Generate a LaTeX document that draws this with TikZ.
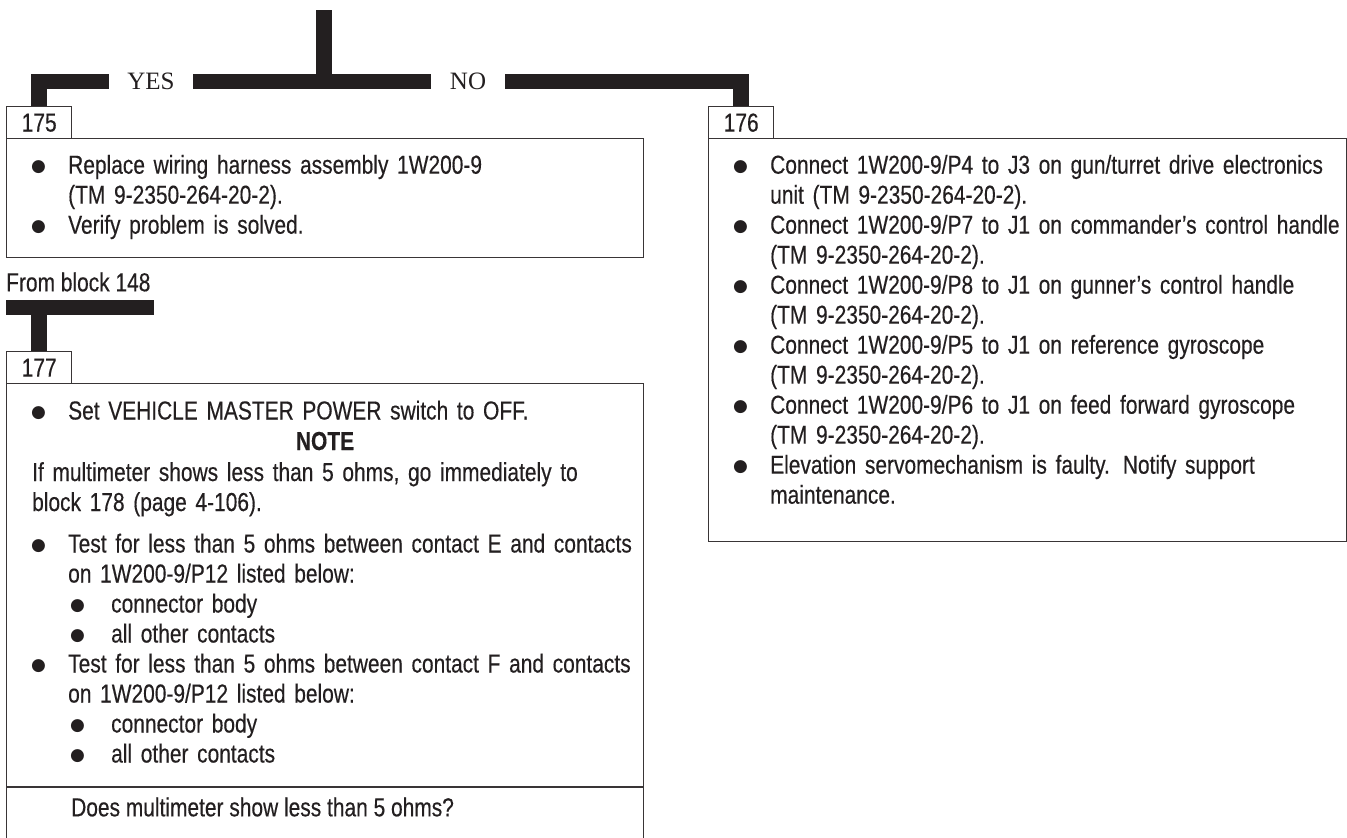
\documentclass[tikz,border=0pt]{standalone}
\usepackage{fontspec}
\setmainfont{Liberation Sans}[FakeStretch=0.805, FakeBold=0.35]
\newfontfamily\ynfont{Liberation Serif}
\newfontfamily\dotfont{DejaVu Sans}
\definecolor{ink}{HTML}{231F20}

% bullet glyph and list paragraphs with hanging indent
\newcommand{\bdot}{\raisebox{2.5pt}{\dotfont\fontsize{17pt}{17pt}\selectfont ●}}
\newcommand{\bitem}[1]{\hangindent=37pt\hangafter=1\noindent\rule{0pt}{20pt}\makebox[37pt][l]{\bdot}#1\par}
\newcommand{\sitem}[1]{\hangindent=80pt\hangafter=1\noindent\rule{0pt}{20pt}\hspace*{39pt}\makebox[41pt][l]{\bdot}#1\par}

\tikzset{
  bar/.style={line width=15.5pt, draw=ink, line join=miter, line cap=butt},
  boxline/.style={draw=ink!90, line width=1.4pt},
  panel/.style={boxline, rectangle, inner sep=0pt, anchor=north west},
  tag/.style={panel, minimum width=65pt, minimum height=32pt,
    font=\fontsize{26pt}{30pt}\selectfont, text=ink},
  txt/.style={anchor=north west, inner sep=0pt, text width=640pt,
    text=ink, font=\fontsize{26pt}{30pt}\selectfont,
    execute at begin node={\lineskiplimit=-100pt\lineskip=0pt\parindent=0pt\parskip=0pt}},
  line/.style={inner sep=0pt, text=ink, font=\fontsize{26pt}{30pt}\selectfont},
  yn/.style={inner sep=0pt, text=ink, font=\ynfont\fontsize{25pt}{25pt}\selectfont},
}

\begin{document}
\begin{tikzpicture}[x=1pt, y=-1pt]
\useasboundingbox (0,0) rectangle (1347,838);

% ---- block 175 ----
\node[tag] (lab175) at (6,106) {175};
\node[panel, minimum width=637pt, minimum height=119pt] (box175) at (6,138) {};
\node[txt] (t175) at (31,153.5) {%
\bitem{Replace wiring harness assembly 1W200-9\newline(TM 9-2350-264-20-2).}
\bitem{Verify problem is solved.}};

% ---- block 176 ----
\node[tag] (lab176) at (708,106) {176};
\node[panel, minimum width=638pt, minimum height=403pt] (box176) at (708,138) {};
\node[txt] (t176) at (733,153.5) {%
\bitem{Connect 1W200-9/P4 to J3 on gun/turret drive electronics\newline unit (TM 9-2350-264-20-2).}
\bitem{Connect 1W200-9/P7 to J1 on commander’s control handle\newline(TM 9-2350-264-20-2).}
\bitem{Connect 1W200-9/P8 to J1 on gunner’s control handle\newline(TM 9-2350-264-20-2).}
\bitem{Connect 1W200-9/P5 to J1 on reference gyroscope\newline(TM 9-2350-264-20-2).}
\bitem{Connect 1W200-9/P6 to J1 on feed forward gyroscope\newline(TM 9-2350-264-20-2).}
\bitem{Elevation servomechanism is faulty. Notify support\newline maintenance.}};

% ---- decision bars ----
\coordinate (top) at (324,10);
\coordinate (yesL) at (109,81.5);
\coordinate (yesR) at (193,81.5);
\coordinate (noL) at (431,81.5);
\coordinate (noR) at (505,81.5);
\draw[bar] (top) -- (top |- yesR);
\draw[bar] (lab175.north) |- (yesL);
\draw[bar] (yesR) -- (noL);
\draw[bar] (noR) -| (lab176.north);
\node[yn] (yes) at (151,81.5) {YES};
\node[yn] (no) at (468,81.5) {NO};

% ---- entry from block 148 ----
\node[line, anchor=base west] (from148) at (6,291.3) {From block 148};
\node[tag] (lab177) at (6,351) {177};
\coordinate (tL) at (6,307.5);
\coordinate (tR) at (154,307.5);
\draw[bar] (tL) -- (tR);
\draw[bar] (tL -| lab177.north) -- (lab177.north);

% ---- block 177 ----
\node[panel, minimum width=637pt, minimum height=480pt] (box177) at (6,383) {};
\node[txt] (t177a) at (31,399.3) {%
\bitem{Set VEHICLE MASTER POWER switch to OFF.}};
\node[line, anchor=base, font=\bfseries\fontsize{26pt}{30pt}\selectfont] (note) at (325,450) {NOTE};
\node[txt] (t177b) at (32,460.8) {%
\rule{0pt}{20pt}If multimeter shows less than 5 ohms, go immediately to\newline block 178 (page 4-106).};
\node[txt] (t177c) at (31,532.3) {%
\bitem{Test for less than 5 ohms between contact E and contacts\newline on 1W200-9/P12 listed below:}
\sitem{connector body}
\sitem{all other contacts}
\bitem{Test for less than 5 ohms between contact F and contacts\newline on 1W200-9/P12 listed below:}
\sitem{connector body}
\sitem{all other contacts}};
\coordinate (div) at (0,787);
\draw[boxline] (box177.west |- div) -- (box177.east |- div);
\node[line, anchor=base west] (ask) at (71,816.3) {Does multimeter show less than 5 ohms?};
\end{tikzpicture}
\end{document}
